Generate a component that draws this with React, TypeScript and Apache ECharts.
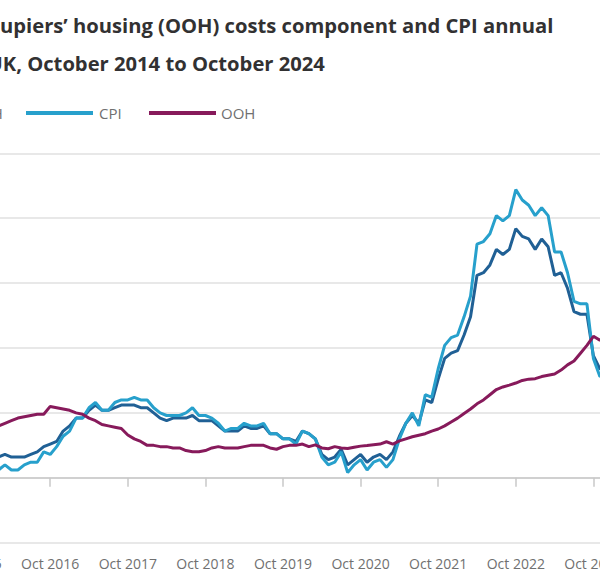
import React, { useEffect, useRef } from "react";
import * as echarts from "echarts";

const MONTH_NAMES = ["Jan", "Feb", "Mar", "Apr", "May", "Jun", "Jul", "Aug", "Sep", "Oct", "Nov", "Dec"];

// Oct 2014 .. Oct 2024 (monthly)
const categories: string[] = [];
for (let y = 2014; y <= 2024; y++) {
  for (let m = 0; m < 12; m++) {
    if ((y === 2014 && m < 9) || (y === 2024 && m > 9)) continue;
    categories.push(`${MONTH_NAMES[m]} ${y}`);
  }
}

const TITLE_LINE_1 = "upiers’ housing (OOH) costs component and CPI annual";
const TITLE_LINE_2 = "UK, October 2014 to October 2024";
const SERIES_NAMES = ["CPIH", "CPI", "OOH"];

const cpih = [
  1.4, 1.2, 0.8,
  0.6, 0.4, 0.4, 0.4, 0.5, 0.4, 0.5, 0.4, 0.3, 0.4, 0.5, 0.6,
  0.8, 0.8, 0.9, 0.8, 0.8, 0.8, 0.9, 1.0, 1.2, 1.3, 1.4, 1.8,
  2.0, 2.3, 2.3, 2.6, 2.8, 2.6, 2.6, 2.7, 2.8, 2.8, 2.8, 2.7,
  2.7, 2.5, 2.3, 2.2, 2.3, 2.3, 2.3, 2.4, 2.2, 2.2, 2.2, 2.0,
  1.8, 1.8, 1.8, 2.0, 1.9, 1.9, 2.0, 1.7, 1.7, 1.5, 1.5, 1.4,
  1.8, 1.7, 1.5, 0.9, 0.7, 0.8, 1.1, 0.5, 0.7, 0.9, 0.6, 0.8,
  0.9, 0.7, 1.0, 1.6, 2.1, 2.4, 2.1, 3.0, 2.9, 3.8, 4.6, 4.8,
  4.9, 5.5, 6.2, 7.8, 7.9, 8.2, 8.8, 8.6, 8.8, 9.6, 9.3, 9.2,
  8.8, 9.2, 8.9, 7.8, 7.9, 7.3, 6.4, 6.3, 6.3, 4.7, 4.2, 4.2,
  4.2, 3.8, 3.8, 3.0, 2.8, 2.8, 3.1, 3.1, 2.6, 3.2,
];

const cpi = [
  1.3, 1.0, 0.5,
  0.3, 0.0, 0.0, -0.1, 0.1, 0.0, 0.1, 0.0, -0.1, -0.1, 0.1, 0.2,
  0.3, 0.3, 0.5, 0.3, 0.3, 0.5, 0.6, 0.6, 1.0, 0.9, 1.2, 1.6,
  1.8, 2.3, 2.3, 2.7, 2.9, 2.6, 2.6, 2.9, 3.0, 3.0, 3.1, 3.0,
  3.0, 2.7, 2.5, 2.4, 2.4, 2.4, 2.5, 2.7, 2.4, 2.4, 2.3, 2.1,
  1.8, 1.9, 1.9, 2.1, 2.0, 2.0, 2.1, 1.7, 1.7, 1.5, 1.5, 1.3,
  1.8, 1.7, 1.5, 0.8, 0.5, 0.6, 1.0, 0.2, 0.5, 0.7, 0.3, 0.6,
  0.7, 0.4, 0.7, 1.5, 2.1, 2.5, 2.0, 3.2, 3.1, 4.2, 5.1, 5.4,
  5.5, 6.2, 7.0, 9.0, 9.1, 9.4, 10.1, 9.9, 10.1, 11.1, 10.7, 10.5,
  10.1, 10.4, 10.1, 8.7, 8.7, 7.9, 6.8, 6.7, 6.7, 4.6, 3.9, 4.0,
  4.0, 3.4, 3.2, 2.3, 2.0, 2.0, 2.2, 2.2, 1.7, 2.3,
];

const ooh = [
  1.2, 1.2, 1.3,
  1.3, 1.4, 1.4, 1.5, 1.6, 1.6, 1.7, 1.8, 1.8, 1.8, 1.9, 1.9,
  1.9, 2.0, 2.1, 2.2, 2.3, 2.35, 2.4, 2.45, 2.45, 2.75, 2.7, 2.65,
  2.6, 2.5, 2.45, 2.3, 2.2, 2.05, 2.0, 1.95, 1.9, 1.65, 1.5, 1.4,
  1.25, 1.25, 1.2, 1.2, 1.15, 1.15, 1.05, 1.0, 1.0, 1.05, 1.15, 1.2,
  1.15, 1.15, 1.15, 1.2, 1.25, 1.25, 1.25, 1.15, 1.1, 1.2, 1.25, 1.25,
  1.3, 1.2, 1.27, 1.15, 1.12, 1.2, 1.15, 1.13, 1.18, 1.22, 1.24, 1.27,
  1.3, 1.39, 1.3, 1.42, 1.5, 1.58, 1.64, 1.7, 1.8, 1.88, 2.0, 2.15,
  2.3, 2.48, 2.65, 2.85, 3.0, 3.2, 3.4, 3.5, 3.57, 3.65, 3.75, 3.8,
  3.82, 3.9, 3.95, 4.0, 4.15, 4.35, 4.5, 4.8, 5.1, 5.45, 5.3, 5.5,
  5.8, 6.0, 6.2, 6.5, 6.7, 6.9, 7.0, 7.1, 7.3, 7.5,
];

const COLORS = ["#206095", "#27a0cc", "#871a5b"];

export default function App() {
  const ref = useRef<HTMLDivElement>(null);

  useEffect(() => {
    document.body.style.margin = "0";
    if (!ref.current) return;
    const chart = echarts.init(ref.current, undefined, { renderer: "svg" });
    const font = '"Open Sans", "Noto Sans", sans-serif';

    // legend drawn as graphic elements (the image is a crop: first item mostly off-canvas)
    const legendIconX = [-103, 26, 149];
    const legendTextX = [-31, 99, 221];
    const legendY = 113;
    const legendGraphics: any[] = [];
    SERIES_NAMES.forEach((name, i) => {
      legendGraphics.push({
        type: "rect",
        shape: { x: legendIconX[i], y: legendY - 2, width: 67, height: 4 },
        style: { fill: COLORS[i] },
      });
      legendGraphics.push({
        type: "text",
        x: legendTextX[i],
        y: legendY,
        style: {
          text: name,
          font: `15px ${font}`,
          fill: "#707070",
          verticalAlign: "middle",
        },
      });
    });

    chart.setOption({
      animation: false,
      backgroundColor: "#ffffff",
      graphic: [
        {
          type: "text",
          x: 0,
          y: 24.5,
          style: {
            text: TITLE_LINE_1,
            font: `bold 20.2px ${font}`,
            fill: "#323132",
            verticalAlign: "middle",
          },
        },
        {
          type: "text",
          x: -12.5,
          y: 62.6,
          style: {
            text: TITLE_LINE_2,
            font: `bold 20.2px ${font}`,
            fill: "#323132",
            verticalAlign: "middle",
          },
        },
        ...legendGraphics,
      ],
      grid: {
        left: -105,
        right: -71,
        top: 153.3,
        bottom: 45.3,
        containLabel: false,
        outerBoundsMode: "none",
      },
      xAxis: {
        type: "category",
        data: categories,
        boundaryGap: false,
        axisLine: { show: true, lineStyle: { color: "#c8c8c8", width: 1.5 } },
        axisTick: { show: true, interval: 11, length: 9, lineStyle: { color: "#c8c8c8", width: 1.5 } },
        axisLabel: {
          interval: 11,
          margin: 14,
          color: "#707070",
          fontSize: 14,
          fontFamily: font,
          hideOverlap: false,
        },
        splitLine: { show: false },
      },
      yAxis: {
        type: "value",
        min: -2.5,
        max: 12.5,
        interval: 2.5,
        axisLine: { show: false },
        axisTick: { show: false },
        axisLabel: { show: false },
        splitLine: { show: true, lineStyle: { color: "#e0e0e0", width: 1.5 } },
      },
      series: [cpih, cpi, ooh].map((data, i) => ({
        name: SERIES_NAMES[i],
        type: "line",
        data,
        showSymbol: false,
        symbol: "none",
        lineStyle: { color: COLORS[i], width: 3 },
        itemStyle: { color: COLORS[i] },
      })),
    });
    return () => chart.dispose();
  }, []);

  return <div ref={ref} style={{ width: 600, height: 588 }} />;
}
